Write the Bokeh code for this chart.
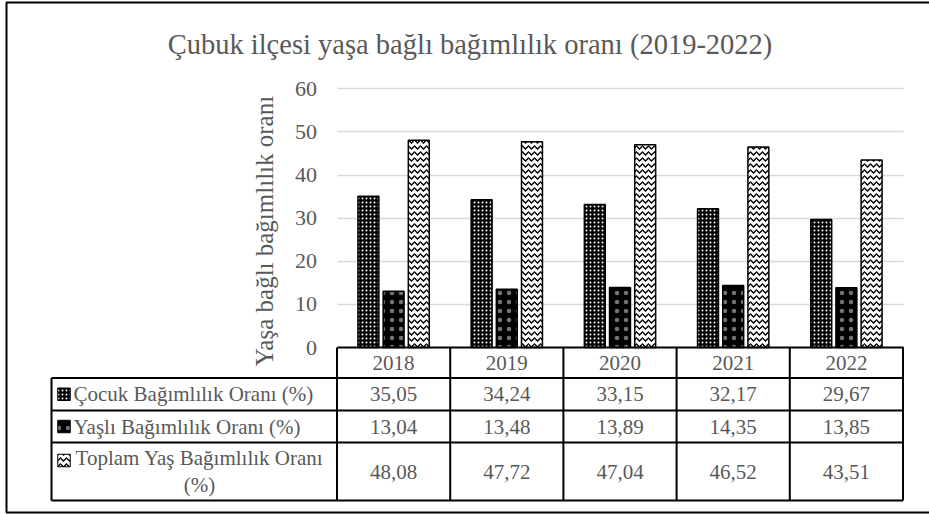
import numpy as np
from bokeh.plotting import figure
from bokeh.models import Range1d, LinearAxis, FixedTicker, Grid, Label, ColumnDataSource
from bokeh.core.properties import value
from bokeh.embed import file_html
from bokeh.resources import INLINE

# ---------------- data ----------------
title_text = "Çubuk ilçesi yaşa bağlı bağımlılık oranı (2019-2022)"
y_axis_title = "Yaşa bağlı bağımlılık oranı"
years = ["2018", "2019", "2020", "2021", "2022"]
series_names = ["Çocuk Bağımlılık Oranı (%)",
                "Yaşlı Bağımlılık Oranı (%)",
                "Toplam Yaş Bağımlılık Oranı\n(%)"]
cocuk = [35.05, 34.24, 33.15, 32.17, 29.67]
yasli = [13.04, 13.48, 13.89, 14.35, 13.85]
toplam = [48.08, 47.72, 47.04, 46.52, 43.51]
y_ticks = [0, 10, 20, 30, 40, 50, 60]

# ---------------- layout (page pixels) ----------------
W, H = 929, 514
PX0, PY0 = 0, 0           # page offset of canvas
X0_PX, CW = 336.5, 113.2  # page x of x=0, px per category column
Y0_PX, YS = 347.0, 4.312  # page y of y=0, px per value unit


def fx(px):
    return (px - X0_PX) / CW


def fy(py):
    return (Y0_PX - py) / YS


xs, xe = fx(PX0), fx(PX0 + W)
ys, ye = fy(PY0 + H), fy(PY0)

FONT = "Liberation Serif"
GRAY = "#595959"

p = figure(width=W, height=H, output_backend="svg", toolbar_location=None,
           x_range=Range1d(xs, xe), y_range=Range1d(ys, ye),
           x_axis_type=None, y_axis_type=None, min_border=0,
           outline_line_color=None, background_fill_color="white",
           border_fill_color="white")

# grid
grid = Grid(dimension=1, ticker=FixedTicker(ticks=y_ticks[1:]), cross_bounds=(0, len(years)),
            grid_line_color="#d9d9d9", grid_line_width=1.5)
p.add_layout(grid)

# bars
idx = np.arange(len(years))
styles = [
    dict(fill_color="black", hatch_pattern="dot", hatch_color="white", hatch_scale=4, hatch_weight=1),
    dict(fill_color="black", hatch_pattern="dot", hatch_color="white", hatch_scale=9, hatch_weight=1,
         hatch_alpha=0.45),
    dict(fill_color="white", hatch_pattern="horizontal_wave", hatch_color="black", hatch_scale=6, hatch_weight=1.3),
]
offsets = [-0.2225, 0.0, 0.2225]
bar_w = 0.185
for vals, off, st in zip([cocuk, yasli, toplam], offsets, styles):
    src = ColumnDataSource(dict(x=idx + 0.5 + off, top=vals))
    p.vbar(x="x", top="top", bottom=0, width=bar_w, source=src,
           line_color="black", line_width=1.5, **st)

# y axis
yax = LinearAxis(fixed_location=0, ticker=FixedTicker(ticks=y_ticks), bounds=(-6, 60),
                 axis_label=y_axis_title, axis_line_color=None,
                 major_tick_line_color=None, minor_tick_line_color=None,
                 major_tick_out=0, major_tick_in=0,
                 major_label_standoff=20, axis_label_standoff=15,
                 major_label_text_font=FONT, major_label_text_font_size="22px",
                 major_label_text_color=GRAY,
                 axis_label_text_font=FONT, axis_label_text_font_size="25px",
                 axis_label_text_font_style="normal", axis_label_text_color=GRAY)
p.add_layout(yax, "left")

# x axis = header row of the data table
centers = [i + 0.5 for i in range(len(years))]
xax = LinearAxis(fixed_location=0, ticker=FixedTicker(ticks=centers), bounds=(0, len(years)),
                 major_label_overrides={c: y for c, y in zip(centers, years)},
                 axis_line_color="black", axis_line_width=2,
                 major_tick_line_color=None, minor_tick_line_color=None,
                 major_tick_out=0, major_tick_in=0, major_label_standoff=8,
                 major_label_text_font=FONT, major_label_text_font_size="21px",
                 major_label_text_color=GRAY)
p.add_layout(xax, "below")

# data table
row_edges = [377.5, 410.0, 442.0, 500.0]
table_left = 51.0
hx0, hy0, hx1, hy1 = [], [], [], []
for ry in row_edges:
    hx0.append(fx(table_left)); hx1.append(len(years)); hy0.append(fy(ry)); hy1.append(fy(ry))
hx0.append(fx(table_left)); hx1.append(fx(table_left)); hy0.append(fy(row_edges[0])); hy1.append(fy(row_edges[-1]))
for b in range(len(years) + 1):
    hx0.append(b); hx1.append(b); hy0.append(0); hy1.append(fy(row_edges[-1]))
p.segment(x0=hx0, y0=hy0, x1=hx1, y1=hy1, line_color="black", line_width=2)

row_centers = [fy((row_edges[0] + row_edges[1]) / 2), fy((row_edges[1] + row_edges[2]) / 2),
               fy((row_edges[2] + row_edges[3]) / 2)]

for r, (vals, name, st) in enumerate(zip([cocuk, yasli, toplam], series_names, styles)):
    txt = [f"{v:.2f}".replace(".", ",") for v in vals]
    p.text(x=idx + 0.5, y=[row_centers[r]] * len(vals), text=txt,
           text_align="center", text_baseline="middle",
           text_font=value(FONT), text_font_size="21px", text_color=GRAY)
    key_y = fy(460) if r == 2 else row_centers[r]
    p.rect(x=[fx(63.5)], y=[key_y], width=12.5 / CW, height=12.5 / YS,
           line_color="black", line_width=1, **st)
    if r < 2:
        p.text(x=[fx(73)], y=[row_centers[r]], text=[name], text_align="left",
               text_baseline="middle", text_font=value(FONT), text_font_size="21px",
               text_color=GRAY)
    else:
        p.text(x=[fx(199)], y=[row_centers[r]], text=[name], text_align="center",
               text_baseline="middle", text_font=value(FONT), text_font_size="21px",
               text_color=GRAY, text_line_height=1.1)

# title
p.add_layout(Label(x=fx(469.5), y=fy(44), text=title_text, text_align="center",
                   text_baseline="alphabetic", text_font=FONT, text_font_size="28.5px",
                   text_color=GRAY))

# outer chart border (left, top, bottom)
p.line(x=[xe, fx(6), fx(6), xe], y=[fy(2), fy(2), fy(512), fy(512)],
       line_color="black", line_width=2)

open("out.html", "w").write(file_html(p, INLINE))
